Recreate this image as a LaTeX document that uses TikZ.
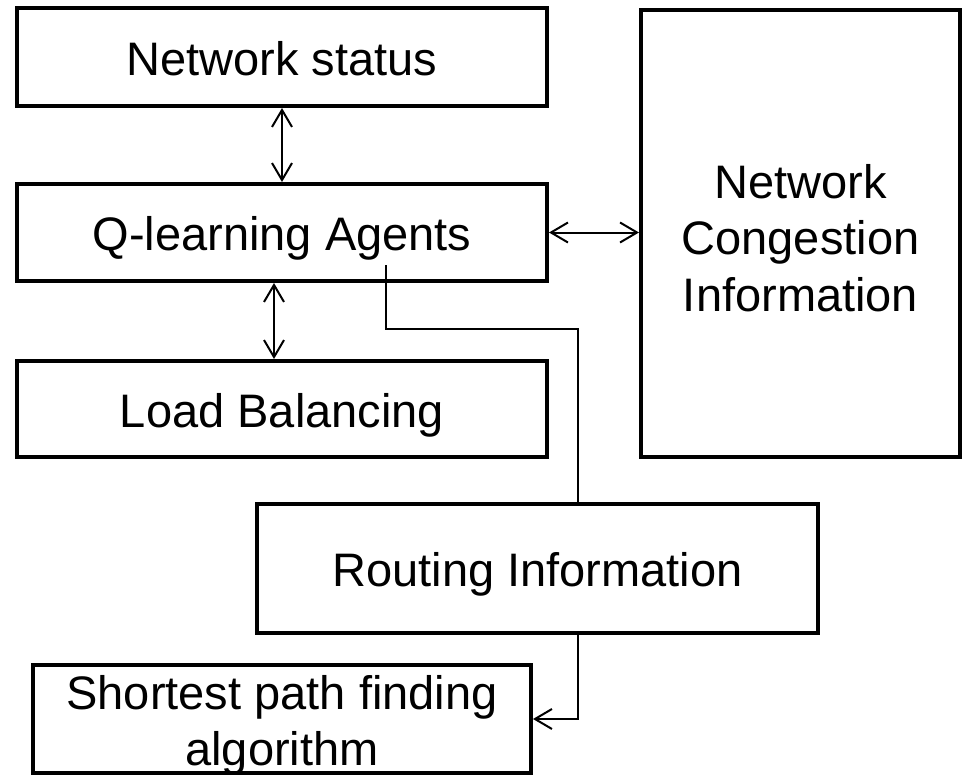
\documentclass[tikz,border=0pt]{standalone}
\usepackage{fontspec}
\setmainfont{Liberation Sans}
\usepackage{tikz}
\usetikzlibrary{arrows.meta}
\usetikzlibrary{calc}

\tikzset{
	blockbox/.style={draw,line width=4pt,inner sep=0pt,align=center,text depth=0pt,
		font=\fontsize{47pt}{56.5pt}\selectfont},
	onebox/.style={blockbox,text height=36.6pt},
	link/.style={line width=2pt}
}

\begin{document}
\begin{tikzpicture}[x=1pt,y=-1pt,>={Straight Barb[length=17pt,width=20pt]}]
		
		\useasboundingbox (0,0) rectangle (963,776);
		
		% Left column of blocks
		\node[onebox,minimum width=530pt,minimum height=98pt] (netstat) at (282,57) {Network status};
		\node[onebox,minimum width=530pt,minimum height=97pt] (qla) at (282,232.5) {Q-learning Agents};
		\node[onebox,minimum width=530pt,minimum height=96pt] (load) at (282,409) {Load Balancing};
		
		% Right block
		\node[blockbox,text height=155pt,minimum width=319pt,minimum height=447pt] (congest) at (800.5,233.5)
			{Network\\Congestion\\Information};
		
		% Lower blocks
		\node[onebox,minimum width=561pt,minimum height=129pt] (routing) at (537.5,568.5) {Routing Information};
		\node[blockbox,text height=92pt,minimum width=498pt,minimum height=108pt,
			font=\fontsize{47pt}{56pt}\selectfont] (shortest) at (282,719)
			{Shortest path finding\\algorithm};
		
		% Two-way links
		\draw[link,<->] (netstat) -- (qla);
		\draw[link,<->] ([xshift=-8pt]qla.south) -- ([xshift=-8pt]load.north);
		\draw[link,<->] (qla.east) -- (qla.east -| congest.west);
		
		% Route from the agents down to the shortest path block
		\coordinate (tap) at (386,265);
		\coordinate (bend) at (578,329);
		\draw[link] (tap) |- (bend) -- (bend |- routing.north);
		\draw[link,->] (bend |- routing.south) |- (shortest.east);
		
	\end{tikzpicture}
\end{document}
